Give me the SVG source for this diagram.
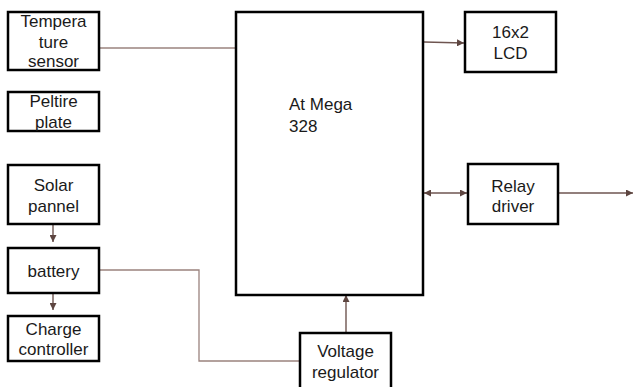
<svg xmlns="http://www.w3.org/2000/svg" width="634" height="387" viewBox="0 0 634 387">
<defs>
<style>
.box{fill:#fff;stroke:#000;stroke-width:2.5}
.t{font-family:"Liberation Sans",Arial,sans-serif;font-size:17px;fill:#1a1a1a;text-anchor:middle}
.c{fill:none;stroke:#6e5550;stroke-width:1.4}
.cl{fill:none;stroke:#9a837e;stroke-width:1.3}
</style>
<marker id="ah" viewBox="0 0 10 10" refX="10" refY="5" markerWidth="7" markerHeight="7" markerUnits="userSpaceOnUse" orient="auto">
<path d="M0,0 L10,5 L0,10 z" fill="#5d4540"/>
</marker>
<marker id="as" viewBox="0 0 10 10" refX="0" refY="5" markerWidth="7" markerHeight="7" markerUnits="userSpaceOnUse" orient="auto">
<path d="M10,0 L0,5 L10,10 z" fill="#5d4540"/>
</marker>
</defs>
<rect width="634" height="387" fill="#fff"/>
<g id="connectors">
<path class="cl" d="M99,48 H236"/>
<path class="cl" d="M99,270 H199 V361 H300"/>
<path class="c" d="M53,224 V242" marker-end="url(#ah)"/>
<path class="c" d="M53,293 V310" marker-end="url(#ah)"/>
<path class="c" d="M346,333 V295" marker-end="url(#ah)"/>
<path class="c" d="M424,42 L464,43" marker-end="url(#ah)"/>
<path class="c" d="M424,193 H467" marker-start="url(#as)" marker-end="url(#ah)"/>
<path class="c" d="M558,193 H633" marker-end="url(#ah)"/>
</g>
<g id="temp">
<rect class="box" x="8" y="12" width="91" height="58"/>
<text class="t" x="53.5" y="27">Tempera</text>
<text class="t" x="53.5" y="48">ture</text>
<text class="t" x="53.5" y="67">sensor</text>
</g>
<g id="peltire">
<rect class="box" x="8" y="92" width="91" height="39"/>
<text class="t" x="53.5" y="107">Peltire</text>
<text class="t" x="53.5" y="128">plate</text>
</g>
<g id="solar">
<rect class="box" x="8" y="165" width="91" height="59"/>
<text class="t" x="53.5" y="191">Solar</text>
<text class="t" x="53.5" y="212">pannel</text>
</g>
<g id="battery">
<rect class="box" x="8" y="248" width="91" height="45"/>
<text class="t" x="53.5" y="277">battery</text>
</g>
<g id="charge">
<rect class="box" x="8" y="316" width="91" height="45"/>
<text class="t" x="53.5" y="335">Charge</text>
<text class="t" x="53.5" y="355">controller</text>
</g>
<g id="atmega">
<rect class="box" x="236" y="12" width="187" height="283"/>
<text class="t" x="289" y="110" style="text-anchor:start">At Mega</text>
<text class="t" x="289" y="132" style="text-anchor:start">328</text>
</g>
<g id="lcd">
<rect class="box" x="465" y="12" width="91" height="60"/>
<text class="t" x="510.5" y="38">16x2</text>
<text class="t" x="510.5" y="59">LCD</text>
</g>
<g id="relay">
<rect class="box" x="468" y="164" width="90" height="60"/>
<text class="t" x="513" y="192">Relay</text>
<text class="t" x="513" y="212">driver</text>
</g>
<g id="voltage">
<rect class="box" x="300" y="333" width="91" height="60"/>
<text class="t" x="345.5" y="357">Voltage</text>
<text class="t" x="345.5" y="378">regulator</text>
</g>
</svg>
